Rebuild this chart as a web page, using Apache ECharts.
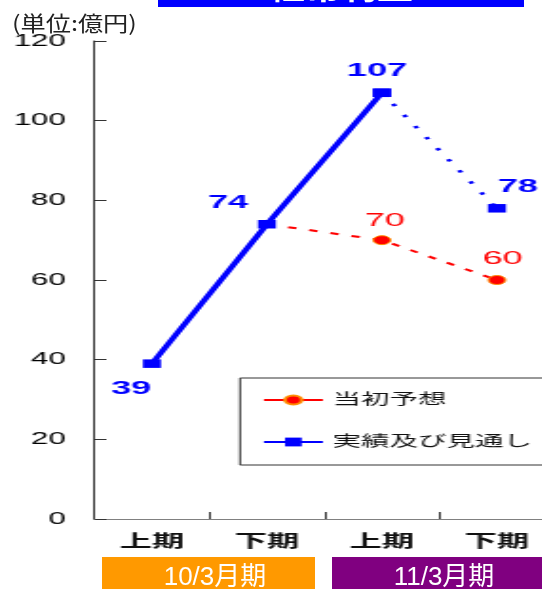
<!DOCTYPE html>
<html>
<head>
<meta charset="utf-8">
<script src="https://cdn.jsdelivr.net/npm/echarts@6/dist/echarts.min.js"></script>
<style>
  html, body { margin:0; padding:0; width:542px; height:589px; overflow:hidden; background:#fff; }
  #main { position:absolute; left:0; top:0; width:300px; height:589px; transform:scaleX(1.9); transform-origin:0 0; }
  #overlay { position:absolute; left:0; top:0; width:542px; height:589px; pointer-events:none; }
</style>
</head>
<body>
<div id="main"></div>
<div id="overlay"></div>
<script>
// ---- data ----
const categories = ['上期', '下期', '上期', '下期'];
const periods = ['10/3月期', '11/3月期'];
const actualValues = [39, 74, 107];      // 実績
const outlookValue = 78;                 // 見通し
const planValues = [70, 60];             // 当初予想 (11/3月期)
const yMin = 0, yMax = 120, yInterval = 20;
const titleText = '経常利益';
const unitText = '(単位:億円)';

// ---- build ----
const FONT = "'Liberation Sans', 'Noto Sans CJK JP', sans-serif";
const blueLabelOffsets = [[-11, 25], [-20.5, -21], [-2.6, -22]];
const outlookLabelOffset = [11, -21.5];
const planLabelOffsets = [[1.6, -19.5], [3, -21]];

const solidData = categories.map((c, i) =>
  i < actualValues.length ? { value: actualValues[i], label: { offset: blueLabelOffsets[i] } } : null);
const lastIdx = actualValues.length - 1;
const dottedData = categories.map((c, i) => {
  if (i === lastIdx) return { value: actualValues[lastIdx], label: { show: false } };
  if (i === lastIdx + 1) return { value: outlookValue, label: { offset: outlookLabelOffset } };
  return null;
});
const planStart = categories.length - planValues.length;
const planData = categories.map((c, i) => {
  if (i === planStart - 1) return { value: actualValues[i], symbol: 'none', label: { show: false } };
  if (i >= planStart) return { value: planValues[i - planStart], label: { offset: planLabelOffsets[i - planStart] } };
  return null;
});

const chart = echarts.init(document.getElementById('main'), null, { renderer: 'canvas' });
chart.setOption({
  animation: false,
  backgroundColor: '#fff',
  grid: { left: 49.7, right: 8.2, top: 41, bottom: 70, containLabel: false, outerBoundsMode: 'none' },
  xAxis: {
    type: 'category',
    data: categories,
    boundaryGap: true,
    axisLine: { lineStyle: { color: '#808080', width: 1 } },
    axisTick: { show: true, inside: true, length: 7, alignWithLabel: false, lineStyle: { color: '#333', width: 1 } },
    axisLabel: { margin: 15, fontSize: 17, fontWeight: 'bold', color: '#111', fontFamily: FONT, interval: 0 },
    splitLine: { show: false }
  },
  yAxis: {
    type: 'value',
    min: yMin, max: yMax, interval: yInterval,
    axisLine: { show: true, lineStyle: { color: '#333', width: 1 } },
    axisTick: { show: true, inside: true, length: 6.3, lineStyle: { color: '#333', width: 1 } },
    axisLabel: { margin: 15, fontSize: 16.5, color: '#000', fontFamily: FONT, verticalAlign: 'middle', padding: [7, 0, 0, 0] },
    splitLine: { show: false }
  },
  legend: {
    orient: 'vertical',
    left: 126.3, top: 378,
    padding: [14.5, 20, 15.5, 11.6],
    itemGap: 27,
    itemWidth: 31, itemHeight: 11,
    borderColor: '#333', borderWidth: 1, borderRadius: 0,
    backgroundColor: '#fff',
    textStyle: { fontSize: 15, color: '#111', fontFamily: FONT },
    lineStyle: { width: 2, type: 'solid' },
    data: ['当初予想', '実績及び見通し']
  },
  series: [
    {
      name: '当初予想', type: 'line', data: planData,
      symbol: 'circle', symbolSize: 9,
      itemStyle: { color: '#FF0000', borderColor: '#FF8C00', borderWidth: 1 },
      lineStyle: { color: '#FF0000', width: 2, type: [4.5, 7] },
      label: { show: true, position: 'inside', align: 'center', verticalAlign: 'middle',
               color: '#FF0000', fontSize: 19, fontFamily: FONT },
      connectNulls: false, z: 2
    },
    {
      name: '実績及び見通し', type: 'line', data: dottedData,
      symbol: 'rect', symbolSize: [9.5, 8.5],
      itemStyle: { color: '#0000FF' },
      lineStyle: { color: '#0000FF', width: 2.5, type: [2.5, 10] },
      label: { show: true, position: 'inside', align: 'center', verticalAlign: 'middle',
               color: '#0000FF', fontSize: 19, fontWeight: 'bold', fontFamily: FONT },
      z: 3
    },
    {
      name: '実績及び見通し', type: 'line', data: solidData,
      symbol: 'rect', symbolSize: [9.5, 8.5],
      itemStyle: { color: '#0000FF' },
      lineStyle: { color: '#0000FF', width: 3.5, type: 'solid' },
      label: { show: true, position: 'inside', align: 'center', verticalAlign: 'middle',
               color: '#0000FF', fontSize: 19, fontWeight: 'bold', fontFamily: FONT },
      z: 4
    }
  ]
});

// ---- overlay: title box, unit label, period bands ----
const overlay = echarts.init(document.getElementById('overlay'), null, { renderer: 'canvas' });
const bandColors = ['#FF9900', '#800080'];
const bandRects = [[102, 557, 213, 40], [332, 557, 220, 40]];
const bandTextX = [215, 444];
overlay.setOption({
  animation: false,
  backgroundColor: 'transparent',
  graphic: [
    { type: 'rect', shape: { x: 158, y: -40, width: 366, height: 47 }, style: { fill: '#0000FF' } },
    { type: 'text', x: 341, y: 3, style: { text: titleText, fill: '#fff', font: "bold 36px 'Noto Sans CJK JP'", textAlign: 'center', textVerticalAlign: 'bottom' } },
    { type: 'text', x: 12, y: 13, scaleX: 1.2, style: { text: unitText, fill: '#222', font: "21px 'Noto Sans CJK JP'", textAlign: 'left', textVerticalAlign: 'top' } }
  ].concat(periods.map((p, i) => ({
    type: 'rect', shape: { x: bandRects[i][0], y: bandRects[i][1], width: bandRects[i][2], height: bandRects[i][3] },
    style: { fill: bandColors[i] }
  }))).concat(periods.map((p, i) => ({
    type: 'text', x: bandTextX[i], y: 578,
    style: { text: p, fill: '#fff', font: "26px 'Liberation Sans', 'Noto Sans CJK JP'", textAlign: 'center', textVerticalAlign: 'middle' }
  })))
});
</script>
</body>
</html>
